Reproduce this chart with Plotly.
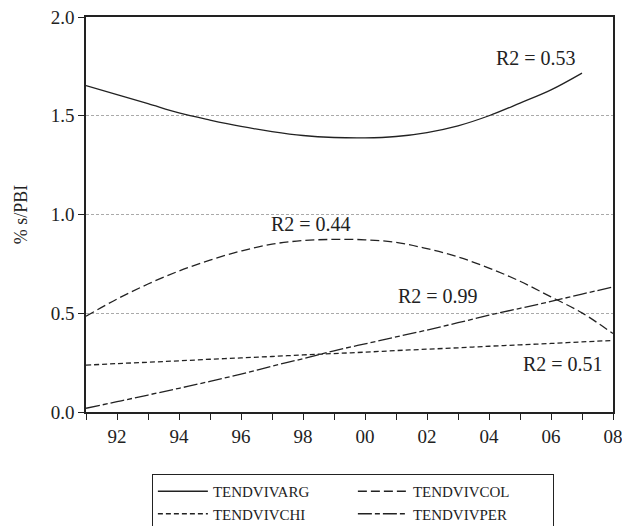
import plotly.graph_objects as go

# years and trend values (% s/PBI)
years = list(range(1991, 2009))
years_arg = list(range(1991, 2008))

arg = [1.653, 1.607, 1.561, 1.514, 1.478, 1.446, 1.420, 1.400, 1.390,
       1.388, 1.395, 1.415, 1.449, 1.500, 1.564, 1.631, 1.716]
col = [0.485, 0.572, 0.648, 0.714, 0.769, 0.815, 0.850, 0.868, 0.874,
       0.872, 0.859, 0.827, 0.785, 0.729, 0.662, 0.583, 0.502, 0.397]
chi = [0.237, 0.245, 0.252, 0.259, 0.267, 0.274, 0.281, 0.289, 0.296,
       0.303, 0.311, 0.318, 0.325, 0.333, 0.340, 0.347, 0.355, 0.362]
per = [0.019, 0.052, 0.086, 0.120, 0.155, 0.192, 0.232, 0.270, 0.310,
       0.345, 0.380, 0.415, 0.452, 0.490, 0.525, 0.560, 0.597, 0.633]

r2_labels = ["R2 = 0.53", "R2 = 0.44", "R2 = 0.99", "R2 = 0.51"]
r2_x = [2005.5, 1998.25, 2002.35, 2006.4]
r2_y = [1.79, 0.95, 0.585, 0.245]

tick_text = [str(y)[2:] if y % 2 == 0 else "" for y in years]

FONT = "Liberation Serif, Times New Roman, serif"
INK = "#222222"

fig = go.Figure()
fig.add_trace(go.Scatter(x=years_arg, y=arg, name="TENDVIVARG", mode="lines",
                         line=dict(color=INK, width=1.3, shape="spline")))
fig.add_trace(go.Scatter(x=years, y=col, name="TENDVIVCOL", mode="lines",
                         line=dict(color=INK, width=1.3, shape="spline", dash="9px,4px")))
fig.add_trace(go.Scatter(x=years, y=chi, name="TENDVIVCHI", mode="lines",
                         line=dict(color=INK, width=1.3, shape="spline", dash="5px,3px")))
fig.add_trace(go.Scatter(x=years, y=per, name="TENDVIVPER", mode="lines",
                         line=dict(color=INK, width=1.3, shape="spline", dash="14px,3px,5px,3px")))

for t, x, y in zip(r2_labels, r2_x, r2_y):
    fig.add_annotation(x=x, y=y, text=t, showarrow=False,
                       font=dict(family=FONT, size=20, color=INK))

fig.update_xaxes(
    range=[1991, 2008], tickvals=years, ticktext=tick_text,
    ticks="outside", ticklen=6, tickwidth=1.2, tickcolor=INK,
    showline=True, linecolor=INK, linewidth=1.5, mirror=True,
    showgrid=False, zeroline=False, ticklabeloverflow="allow",
    tickfont=dict(family=FONT, size=19, color=INK),
)
fig.update_yaxes(
    range=[0, 2], tickvals=[0, 0.5, 1.0, 1.5, 2.0], tickformat=".1f",
    ticks="outside", ticklen=6, tickwidth=1.2, tickcolor=INK,
    showline=True, linecolor=INK, linewidth=1.5, mirror=True,
    showgrid=True, gridcolor="#aaaaaa", gridwidth=1, griddash="3px,2px",
    zeroline=False, ticklabeloverflow="allow",
    tickfont=dict(family=FONT, size=19, color=INK),
    title=dict(text="% s/PBI", font=dict(family=FONT, size=18, color=INK), standoff=18),
)

fig.update_layout(
    width=622, height=526,
    margin=dict(l=86, r=9, t=17, b=114, autoexpand=False),
    plot_bgcolor="white", paper_bgcolor="white",
    showlegend=True,
    legend=dict(
        orientation="h", x=0.125, y=-0.157, xanchor="left", yanchor="top",
        entrywidth=135, itemwidth=50,
        bordercolor=INK, borderwidth=1, bgcolor="white",
        font=dict(family=FONT, size=15, color=INK),
        tracegroupgap=0,
    ),
)

# drop the default page margin so the figure sits at the window's corner
fig.write_html("out.html", config={"displayModeBar": False},
               post_script="document.body.style.margin = '0';")
